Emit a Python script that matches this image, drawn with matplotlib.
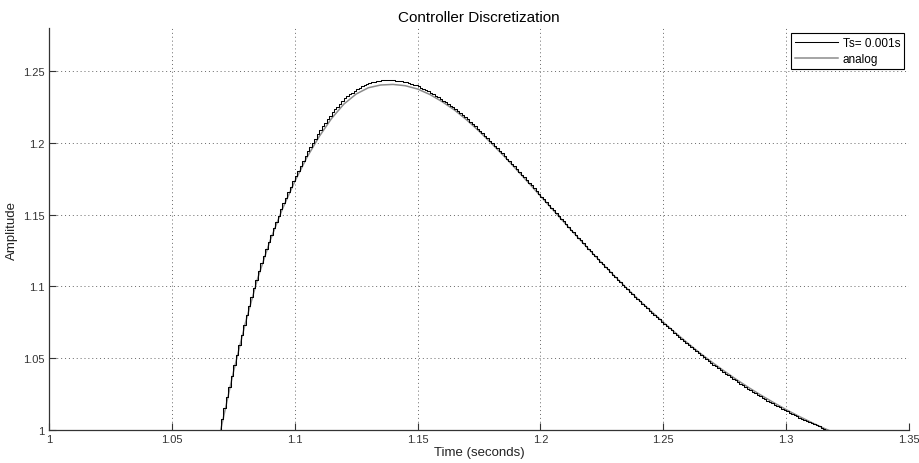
import numpy as np
import matplotlib
matplotlib.use("Agg")
import matplotlib.pyplot as plt
from matplotlib.ticker import FixedLocator, FixedFormatter

plt.rcParams['font.family'] = ['Liberation Sans', 'DejaVu Sans']

title = "Controller Discretization"
xlabel = "Time (seconds)"
ylabel = "Amplitude"
series_names = ["Ts= 0.001s", "analog"]

x_ticks = [1.0, 1.05, 1.1, 1.15, 1.2, 1.25, 1.3, 1.35]
x_tick_labels = ["1", "1.05", "1.1", "1.15", "1.2", "1.25", "1.3", "1.35"]
y_ticks = [1.0, 1.05, 1.1, 1.15, 1.2, 1.25]
y_tick_labels = ["1", "1.05", "1.1", "1.15", "1.2", "1.25"]

# discrete response, sampled every Ts = 0.001 s starting at t0 = 1.065 s
Ts = 0.001
t0 = 1.065
y_disc = [
    0.9650, 0.9736, 0.9822, 0.9908, 0.9994, 1.0080,
    1.0154, 1.0228, 1.0302, 1.0376, 1.0450,
    1.0520, 1.0590, 1.0660, 1.0730, 1.0800,
    1.0862, 1.0924, 1.0986, 1.1048, 1.1110,
    1.1160, 1.1210, 1.1260, 1.1310, 1.1360,
    1.1404, 1.1448, 1.1492, 1.1536, 1.1580,
    1.1618, 1.1656, 1.1694, 1.1732, 1.1770,
    1.1804, 1.1838, 1.1872, 1.1906, 1.1940,
    1.1970, 1.2000, 1.2030, 1.2060, 1.2090,
    1.2115, 1.2140, 1.2165, 1.2190, 1.2215,
    1.2234, 1.2253, 1.2272, 1.2291, 1.2310,
    1.2323, 1.2337, 1.2350, 1.2364, 1.2377,
    1.2385, 1.2393, 1.2402, 1.2410, 1.2418,
    1.2421, 1.2425, 1.2428, 1.2432, 1.2435,
    1.2436, 1.2437, 1.2437, 1.2437, 1.2437,
    1.2434, 1.2431, 1.2428, 1.2425, 1.2422,
    1.2416, 1.2411, 1.2405, 1.2400, 1.2394,
    1.2385, 1.2376, 1.2368, 1.2359, 1.2350,
    1.2339, 1.2328, 1.2317, 1.2306, 1.2295,
    1.2283, 1.2271, 1.2259, 1.2247, 1.2235,
    1.2221, 1.2206, 1.2192, 1.2177, 1.2163,
    1.2147, 1.2131, 1.2115, 1.2099, 1.2083,
    1.2066, 1.2049, 1.2032, 1.2015, 1.1998,
    1.1980, 1.1963, 1.1945, 1.1928, 1.1910,
    1.1891, 1.1873, 1.1854, 1.1836, 1.1817,
    1.1798, 1.1779, 1.1760, 1.1741, 1.1722,
    1.1703, 1.1684, 1.1664, 1.1645, 1.1626,
    1.1607, 1.1588, 1.1568, 1.1549, 1.1530,
    1.1511, 1.1492, 1.1472, 1.1453, 1.1434,
    1.1415, 1.1396, 1.1377, 1.1358, 1.1339,
    1.1320, 1.1301, 1.1283, 1.1264, 1.1245,
    1.1227, 1.1209, 1.1190, 1.1172, 1.1154,
    1.1136, 1.1118, 1.1101, 1.1083, 1.1065,
    1.1048, 1.1031, 1.1013, 1.0996, 1.0979,
    1.0962, 1.0946, 1.0929, 1.0913, 1.0896,
    1.0880, 1.0864, 1.0848, 1.0832, 1.0816,
    1.0801, 1.0785, 1.0770, 1.0754, 1.0739,
    1.0724, 1.0709, 1.0694, 1.0678, 1.0663,
    1.0648, 1.0634, 1.0619, 1.0605, 1.0590,
    1.0576, 1.0562, 1.0548, 1.0534, 1.0520,
    1.0507, 1.0494, 1.0481, 1.0468, 1.0455,
    1.0443, 1.0430, 1.0418, 1.0405, 1.0393,
    1.0381, 1.0369, 1.0358, 1.0346, 1.0334,
    1.0323, 1.0312, 1.0300, 1.0289, 1.0278,
    1.0267, 1.0257, 1.0246, 1.0236, 1.0225,
    1.0215, 1.0205, 1.0195, 1.0185, 1.0175,
    1.0166, 1.0157, 1.0148, 1.0139, 1.0130,
    1.0121, 1.0113, 1.0104, 1.0096, 1.0087,
    1.0079, 1.0071, 1.0063, 1.0055, 1.0047,
    1.0040, 1.0032, 1.0025, 1.0017, 1.0010,
    1.0003, 0.9996, 0.9990, 0.9983, 0.9976,
]

# analog (continuous) response
t_analog = [1.065, 1.070, 1.075, 1.080, 1.085, 1.090, 1.095, 1.100, 1.105,
            1.110, 1.115, 1.120, 1.125, 1.130, 1.135, 1.140, 1.145, 1.150,
            1.155, 1.160, 1.165, 1.170, 1.175, 1.180, 1.185, 1.190, 1.195,
            1.200, 1.205, 1.210, 1.215, 1.220, 1.225, 1.230, 1.235, 1.240,
            1.245, 1.250, 1.255, 1.260, 1.265, 1.270, 1.275, 1.280, 1.285,
            1.290, 1.295, 1.300, 1.305, 1.310, 1.315, 1.320]
y_analog = [0.958, 1.001, 1.040, 1.075, 1.106, 1.132, 1.154, 1.173, 1.190,
            1.2045, 1.2170, 1.2270, 1.2340, 1.2384, 1.2403, 1.2407, 1.2398, 1.2375,
            1.2337, 1.2287, 1.2229, 1.2160, 1.2082, 1.1998, 1.1911, 1.1819, 1.1725,
            1.1630, 1.1535, 1.1440, 1.1346, 1.1253, 1.1163, 1.1075, 1.0990, 1.0907,
            1.0828, 1.0751, 1.0676, 1.0604, 1.0535, 1.0470, 1.0408, 1.0349, 1.0293,
            1.0240, 1.0190, 1.0142, 1.0097, 1.0055, 1.0015, 0.9978]

t_disc = t0 + Ts * np.arange(len(y_disc))

fig = plt.figure(figsize=(9.19, 4.64), dpi=100)
fig.patch.set_facecolor('white')
ax = fig.add_axes([49/919, 1-431/464, 860/919, 402/464])

ax.plot(t_disc, y_disc, drawstyle='steps-post', color='black', lw=0.75,
        label=series_names[0], zorder=3)
ax.plot(t_analog, y_analog, color='#8c8c8c', lw=1.1, label=series_names[1], zorder=2)

ax.set_xlim(1.0, 1.35)
ax.set_ylim(1.0, 1.28)
ax.xaxis.set_major_locator(FixedLocator(x_ticks))
ax.xaxis.set_major_formatter(FixedFormatter(x_tick_labels))
ax.yaxis.set_major_locator(FixedLocator(y_ticks))
ax.yaxis.set_major_formatter(FixedFormatter(y_tick_labels))

ax.spines['top'].set_visible(False)
ax.spines['right'].set_visible(False)
for s in ('left', 'bottom'):
    ax.spines[s].set_color('#333333')
    ax.spines[s].set_linewidth(0.9)

ax.tick_params(direction='in', length=5, width=0.8, colors='#333333',
               labelsize=8, labelcolor='#333333', pad=3)
ax.grid(True, linestyle=(0, (1, 3)), color='#666666', linewidth=0.7)
ax.set_axisbelow(True)

ax.set_title(title, fontsize=11, pad=5)
ax.set_xlabel(xlabel, fontsize=9.5, labelpad=1, color='#222222')
ax.set_ylabel(ylabel, fontsize=9.5, labelpad=4, color='#222222')

leg = ax.legend(loc='upper right', fontsize=8.5, frameon=True, fancybox=False,
                edgecolor='black', framealpha=1, handlelength=3.6,
                borderaxespad=0.4, borderpad=0.35, labelspacing=0.35,
                handletextpad=0.4)
leg.get_frame().set_linewidth(0.8)

fig.savefig('out.png', dpi=100, facecolor='white')
